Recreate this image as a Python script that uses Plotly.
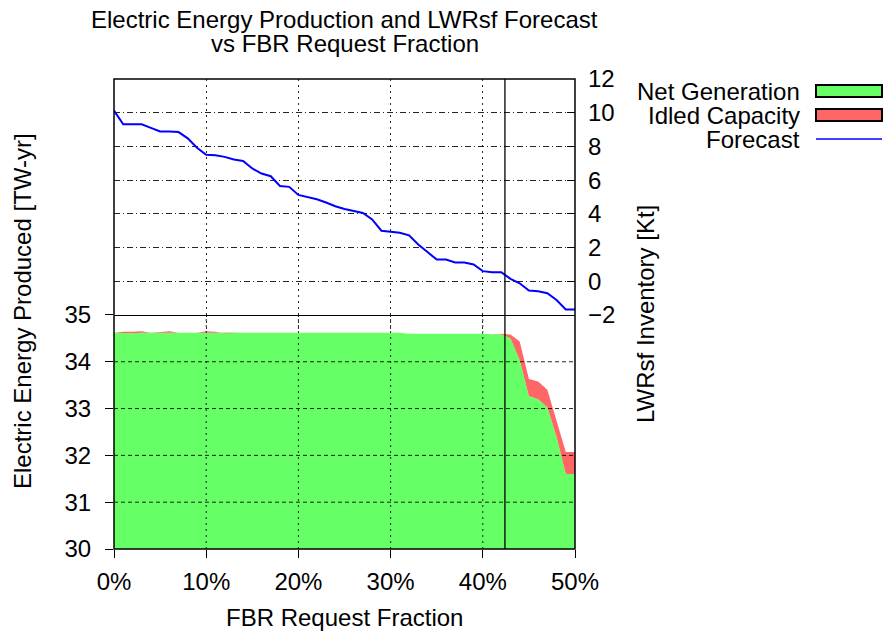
import plotly.graph_objects as go

# ---- data ----
fbr_pct = list(range(0, 51))  # FBR request fraction [%]

net_generation = [34.62, 34.61, 34.61, 34.62, 34.62, 34.61, 34.62, 34.62, 34.62, 34.62,
                  34.62, 34.61, 34.61, 34.62, 34.62, 34.62, 34.62, 34.61, 34.61, 34.62,
                  34.62, 34.62, 34.62, 34.62, 34.62, 34.62, 34.61, 34.61, 34.62, 34.62,
                  34.62, 34.62, 34.60, 34.60, 34.61, 34.61, 34.61, 34.61, 34.60, 34.60,
                  34.60, 34.59, 34.59, 34.50, 34.04, 33.27, 33.20, 33.03, 32.40, 31.60,
                  31.60]

idled_capacity = [0.0, 0.03, 0.03, 0.03, 0.0, 0.03, 0.03, 0.0, 0.0, 0.0,
                  0.03, 0.03, 0.0, 0.0, 0.0, 0.0, 0.0, 0.0, 0.0, 0.0,
                  0.0, 0.0, 0.0, 0.0, 0.0, 0.0, 0.0, 0.0, 0.0, 0.0,
                  0.0, 0.0, 0.0, 0.0, 0.0, 0.0, 0.0, 0.0, 0.0, 0.0,
                  0.0, 0.0, 0.01, 0.08, 0.39, 0.36, 0.38, 0.37, 0.32, 0.47,
                  0.47]

forecast = [10.12, 9.31, 9.31, 9.31, 9.10, 8.89, 8.88, 8.85, 8.48, 7.92,
            7.50, 7.48, 7.38, 7.22, 7.14, 6.69, 6.39, 6.23, 5.65, 5.60,
            5.12, 5.00, 4.86, 4.67, 4.45, 4.29, 4.17, 4.05, 3.67, 3.00,
            2.94, 2.88, 2.72, 2.18, 1.73, 1.29, 1.29, 1.11, 1.11, 0.99,
            0.60, 0.54, 0.54, 0.14, -0.12, -0.55, -0.60, -0.71, -1.11, -1.67,
            -1.67]

threshold_pct = 42.4

x_ticks = [0, 10, 20, 30, 40, 50]
left_ticks = [30, 31, 32, 33, 34, 35]
right_ticks = [-2, 0, 2, 4, 6, 8, 10, 12]

FONT = "Liberation Sans, Arial, sans-serif"
FS = 24
GREEN = "#66ff66"
RED = "#ff6666"
BLUE = "#0000ff"
GRID = "rgba(0,0,0,0.85)"

fig = go.Figure()
fig.add_trace(go.Scatter(x=fbr_pct, y=net_generation, stackgroup="e", mode="lines",
                         line=dict(width=0, color=GREEN), fillcolor=GREEN,
                         name="Net Generation", showlegend=False))
fig.add_trace(go.Scatter(x=fbr_pct, y=idled_capacity, stackgroup="e", mode="lines",
                         line=dict(width=0, color=RED), fillcolor=RED,
                         name="Idled Capacity", showlegend=False))
fig.add_trace(go.Scatter(x=fbr_pct, y=forecast, yaxis="y2", mode="lines",
                         line=dict(width=2, color=BLUE),
                         name="Forecast", showlegend=False))

split = 0.498
fig.update_layout(
    width=884, height=634,
    margin=dict(l=114, r=309, t=79, b=85),
    paper_bgcolor="white", plot_bgcolor="white",
    font=dict(family=FONT, size=FS, color="black"),
    xaxis=dict(range=[0, 50], tickvals=x_ticks, ticktext=[f"{v}%" for v in x_ticks],
               ticks="outside", ticklen=8, tickcolor="black", showline=False,
               showgrid=True, gridcolor=GRID, griddash="2px,4px", gridwidth=1,
               zeroline=False, anchor="y", tickfont=dict(size=FS), ticklabelstandoff=3),
    yaxis=dict(domain=[0, split], range=[30, 35], tickvals=left_ticks,
               ticks="outside", ticklen=8, tickcolor="black", showline=False,
               showgrid=False, zeroline=False, tickfont=dict(size=FS),
               ticklabelstandoff=9),
    yaxis2=dict(domain=[split, 1], range=[-2, 12], tickvals=right_ticks, side="right",
                anchor="x", ticks="inside", ticklen=8, tickcolor="black",
                showline=False, showgrid=True, gridcolor=GRID,
                griddash="6px,3px,1px,3px", gridwidth=1, zeroline=False,
                tickfont=dict(size=FS), ticklabelstandoff=12),
    showlegend=False,
)

shapes = []
# bottom panel grid drawn above the filled areas
for v in left_ticks[1:-1]:
    shapes.append(dict(type="line", xref="paper", yref="y", x0=0, x1=1, y0=v, y1=v,
                       line=dict(color=GRID, width=1, dash="4px,3px"), layer="above"))
for v in x_ticks[1:-1]:
    shapes.append(dict(type="line", xref="x", yref="y", x0=v, x1=v, y0=30, y1=35,
                       line=dict(color=GRID, width=1, dash="2px,4px"), layer="above"))
# frame
shapes.append(dict(type="rect", xref="paper", yref="paper", x0=0, x1=1, y0=0, y1=1,
                   line=dict(color="black", width=1.5), layer="above"))
# panel separator at 35
shapes.append(dict(type="line", xref="paper", yref="y", x0=0, x1=1, y0=35, y1=35,
                   line=dict(color="black", width=2.2), layer="above"))
# threshold line
shapes.append(dict(type="line", xref="x", yref="paper", x0=threshold_pct, x1=threshold_pct,
                   y0=0, y1=1, line=dict(color="black", width=1.3), layer="above"))

# manual legend (text left of sample)
W, H = 884, 634
L, R, T, B = 114, 309, 79, 85
pw, ph = W - L - R, H - T - B
def px(xp):
    return (xp - L) / pw
def py(yp):
    return (H - B - yp) / ph

legend_items = [("Net Generation", GREEN, 91), ("Idled Capacity", RED, 115), ("Forecast", BLUE, 139)]
annotations = []
for label, color, ypix in legend_items:
    annotations.append(dict(text=label, xref="paper", yref="paper", x=px(802), y=py(ypix),
                            xanchor="right", yanchor="middle", showarrow=False,
                            font=dict(size=FS, family=FONT)))
    if label == "Forecast":
        shapes.append(dict(type="line", xref="paper", yref="paper", x0=px(816), x1=px(882),
                           y0=py(ypix), y1=py(ypix), line=dict(color=color, width=1.5)))
    else:
        shapes.append(dict(type="rect", xref="paper", yref="paper", x0=px(816), x1=px(882),
                           y0=py(ypix - 6), y1=py(ypix + 6), fillcolor=color,
                           line=dict(color="black", width=2)))

# titles
annotations.append(dict(text="Electric Energy Production and LWRsf Forecast", xref="paper",
                        yref="paper", x=0.5, y=py(19), xanchor="center", yanchor="middle",
                        showarrow=False, font=dict(size=FS, family=FONT)))
annotations.append(dict(text="vs FBR Request Fraction", xref="paper",
                        yref="paper", x=0.5, y=py(44), xanchor="center", yanchor="middle",
                        showarrow=False, font=dict(size=FS, family=FONT)))
annotations.append(dict(text="FBR Request Fraction", xref="paper", yref="paper",
                        x=0.5, y=py(617), xanchor="center", yanchor="middle",
                        showarrow=False, font=dict(size=FS, family=FONT)))
annotations.append(dict(text="Electric Energy Produced [TW-yr]", xref="paper", yref="paper",
                        x=px(22), y=py(311), xanchor="center", yanchor="middle",
                        textangle=-90, showarrow=False, font=dict(size=FS, family=FONT)))
annotations.append(dict(text="LWRsf Inventory [Kt]", xref="paper", yref="paper",
                        x=px(645), y=py(314), xanchor="center", yanchor="middle",
                        textangle=-90, showarrow=False, font=dict(size=FS, family=FONT)))

fig.update_layout(shapes=shapes, annotations=annotations)
fig.write_html("out.html")
